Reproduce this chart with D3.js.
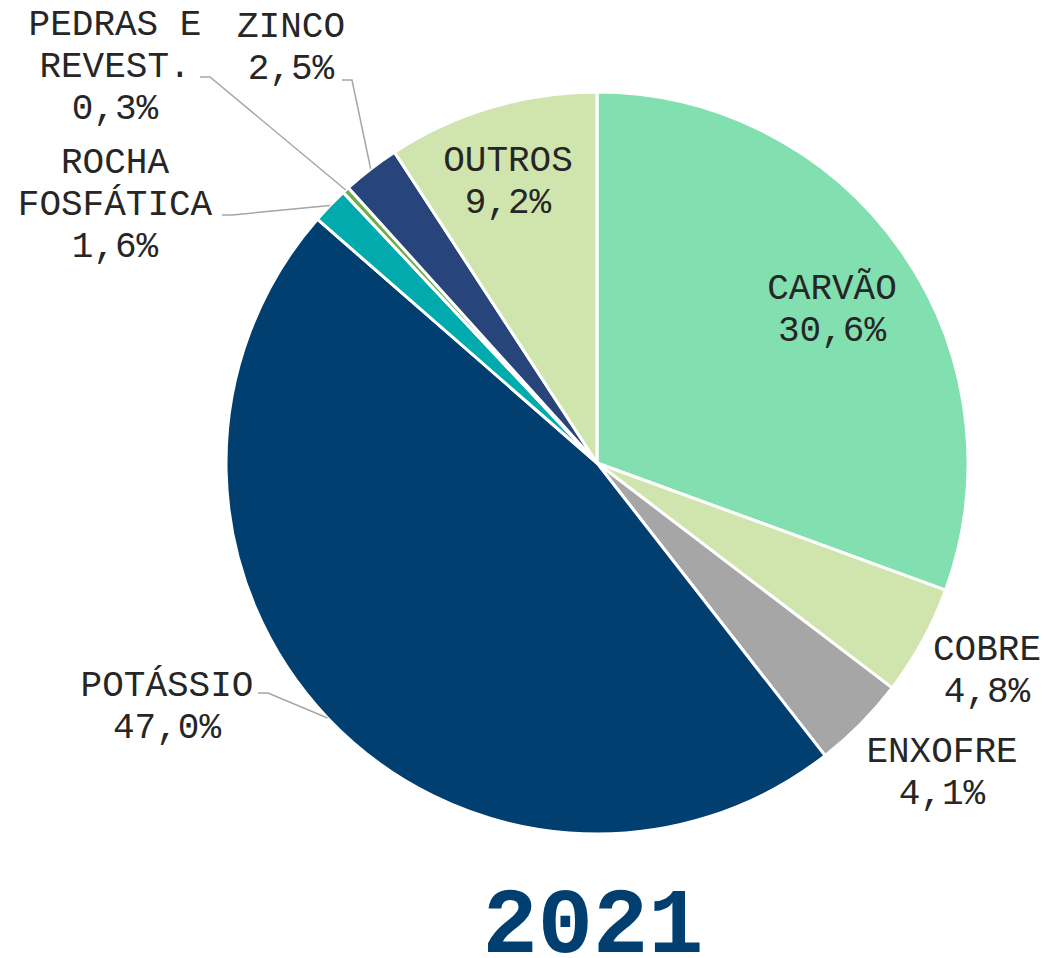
<!DOCTYPE html>
<html>
<head>
<meta charset="utf-8">
<script src="https://cdn.jsdelivr.net/npm/d3@7"></script>
<style>
  body { margin: 0; background: #fff; }
  text { font-family: "Liberation Mono", "Courier New", monospace; }
</style>
</head>
<body>
<div id="chart"></div>
<script>
// data
const categories = ["CARVÃO", "COBRE", "ENXOFRE", "POTÁSSIO", "ROCHA FOSFÁTICA", "PEDRAS E REVEST.", "ZINCO", "OUTROS"];
const shares = [30.6, 4.8, 4.1, 47.0, 1.6, 0.3, 2.5, 9.2];
const label_lines = [
  ["CARVÃO"], ["COBRE"], ["ENXOFRE"], ["POTÁSSIO"],
  ["ROCHA", "FOSFÁTICA"], ["PEDRAS E", "REVEST."], ["ZINCO"], ["OUTROS"]
];
const year = "2021";

const colors = ["#82dfb0", "#d0e5ae", "#a6a6a6", "#003f6f", "#00aaad", "#70ad47", "#27457a", "#d0e5ae"];

// layout: label anchor (x, first baseline) and leader start for small slices
const label_layout = {
  "CARVÃO": { x: 832, y: 299 },
  "COBRE": { x: 987, y: 660 },
  "ENXOFRE": { x: 942, y: 762 },
  "POTÁSSIO": { x: 167, y: 696, leader: [258, 693] },
  "ROCHA FOSFÁTICA": { x: 115, y: 173, leader: [222, 215] },
  "PEDRAS E REVEST.": { x: 115, y: 35, leader: [200, 77] },
  "ZINCO": { x: 291, y: 37, leader: [342, 80] },
  "OUTROS": { x: 508, y: 171 }
};

let graph_config = { width: 1046, height: 958, cx: 597, cy: 463, r: 371 };

let fmt = v => v.toFixed(1).replace(".", ",") + "%";

let svg = d3.select("#chart").append("svg")
  .attr("width", graph_config.width)
  .attr("height", graph_config.height);

let data = categories.map((c, i) => ({ name: c, value: shares[i], lines: label_lines[i], color: colors[i] }));

let pie = d3.pie().sort(null).value(d => d.value);
let arcs = pie(data);
let arc = d3.arc().innerRadius(0).outerRadius(graph_config.r);
let edge = d3.arc().innerRadius(graph_config.r).outerRadius(graph_config.r);

let g = svg.append("g")
  .attr("transform", "translate(" + graph_config.cx + "," + graph_config.cy + ")");

g.selectAll(".slice")
  .data(arcs)
  .enter()
  .append("path")
  .attr("class", "slice")
  .attr("d", arc)
  .attr("fill", d => d.data.color)
  .attr("stroke", "#fff")
  .attr("stroke-width", 3)
  .attr("stroke-linejoin", "round");

// leader lines
arcs.forEach(d => {
  let lay = label_layout[d.data.name];
  if (!lay.leader) return;
  let [ex, ey] = edge.centroid(d);
  ex += graph_config.cx;
  ey += graph_config.cy;
  let [sx, sy] = lay.leader;
  svg.append("polyline")
    .attr("points", [[sx, sy], [sx + 10, sy], [ex, ey]].map(p => p.join(",")).join(" "))
    .attr("fill", "none")
    .attr("stroke", "#a6a6a6")
    .attr("stroke-width", 1.5);
});

// labels
arcs.forEach(d => {
  let lay = label_layout[d.data.name];
  let lines = d.data.lines.concat([fmt(d.data.value)]);
  let t = svg.append("text")
    .attr("text-anchor", "middle")
    .attr("font-size", 36)
    .attr("fill", "#262626");
  lines.forEach((ln, i) => {
    t.append("tspan")
      .attr("x", lay.x)
      .attr("y", lay.y + i * 42)
      .text(ln);
  });
});

svg.append("text")
  .attr("x", 593)
  .attr("y", 952)
  .attr("text-anchor", "middle")
  .attr("font-size", 92)
  .attr("font-weight", "bold")
  .attr("fill", "#003f6f")
  .text(year);
</script>
</body>
</html>
